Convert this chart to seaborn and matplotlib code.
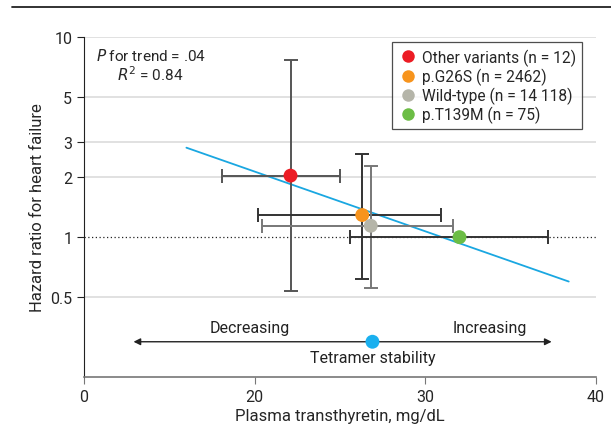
import matplotlib
matplotlib.use("Agg")
import matplotlib.pyplot as plt
import seaborn as sns
import pandas as pd
from matplotlib.lines import Line2D

# data
groups = ["Other variants (n = 12)", "p.G26S (n = 2462)", "Wild-type (n = 14 118)", "p.T139M (n = 75)"]
colors = ["#ec1c24", "#f7941d", "#b5b5a9", "#6cbd45"]
ttr = [22.1, 26.3, 26.8, 32.0]
hr = [2.03, 1.29, 1.14, 1.0]
x_lo = [18.1, 20.2, 20.4, 25.6]
x_hi = [25.0, 30.9, 31.6, 37.2]
hr_lo = [0.54, 0.62, 0.56, None]
hr_hi = [7.7, 2.6, 2.26, None]
bar_colors = ["#555555", "#333333", "#777777", "#333333"]

trend_x = [16.0, 38.4]
trend_hr = [2.8, 0.6]

stab_x = [12.9, 37.4]
stab_mid = 26.9

sns.set_style("white")
plt.rcParams["font.family"] = ["Roboto", "DejaVu Sans"]
plt.rcParams["font.size"] = 11

fig = plt.figure(figsize=(6.11, 4.27), dpi=100)
ax = fig.add_axes([0.1375, 0.1148, 0.838, 0.796])

ax.set_yscale("log")
ax.set_xlim(10, 40)
ax.set_ylim(0.2, 10)

# gridlines
for g in [10, 5, 3, 2, 0.5]:
    ax.axhline(g, color="#dcdcdc", lw=1.2, zorder=0)
ax.axhline(1, color="#222222", lw=0.9, ls=(0, (1, 2)), zorder=0)

# trend line
trend = pd.DataFrame({"x": trend_x, "y": trend_hr})
sns.lineplot(data=trend, x="x", y="y", ax=ax, color="#1aa7e1", lw=1.3, zorder=2)

# error bars
for i in range(len(groups)):
    ax.errorbar(ttr[i], hr[i], xerr=[[ttr[i] - x_lo[i]], [x_hi[i] - ttr[i]]],
                fmt="none", ecolor=bar_colors[i], elinewidth=1.4, capsize=5, capthick=1.4, zorder=3)
    if hr_lo[i] is not None:
        ax.errorbar(ttr[i], hr[i], yerr=[[hr[i] - hr_lo[i]], [hr_hi[i] - hr[i]]],
                    fmt="none", ecolor=bar_colors[i], elinewidth=1.4, capsize=5, capthick=1.4, zorder=3)

df = pd.DataFrame({"ttr": ttr, "hr": hr, "group": groups})
sns.scatterplot(data=df, x="ttr", y="hr", hue="group", palette=colors, s=100,
                edgecolor="none", ax=ax, zorder=4, legend=False)

# tetramer stability arrow
ax.annotate("", xy=(stab_x[0], 0.30), xytext=(stab_x[1], 0.30),
            arrowprops=dict(arrowstyle="<|-|>", color="#222222", lw=1.0, mutation_scale=10,
                            shrinkA=0, shrinkB=0))
ax.scatter([stab_mid], [0.30], s=100, color="#1ab0ef", zorder=5, edgecolor="none")
ax.text(19.7, 0.355, "Decreasing", ha="center", va="center", fontsize=11.5, color="#222222")
ax.text(33.8, 0.355, "Increasing", ha="center", va="center", fontsize=11.5, color="#222222")
ax.text(stab_mid, 0.25, "Tetramer stability", ha="center", va="center", fontsize=11.5, color="#222222")

ax.text(13.9, 8.1, "$P$ for trend = .04", ha="center", va="center", fontsize=11)
ax.text(13.9, 6.6, "$R^2$ = 0.84", ha="center", va="center", fontsize=11)

handles = [Line2D([0], [0], marker="o", color="none", markerfacecolor=c, markeredgecolor="none",
                  markersize=9) for c in colors]
leg = ax.legend(handles, groups, loc="upper right", bbox_to_anchor=(0.973, 0.985), frameon=True,
                fontsize=11.2, handletextpad=0.3, borderpad=0.4, labelspacing=0.12, fancybox=False,
                handlelength=1.2, borderaxespad=0)
leg.get_frame().set_edgecolor("#222222")
leg.get_frame().set_linewidth(0.9)

ax.set_yticks([0.5, 1, 2, 3, 5, 10])
ax.set_yticklabels(["0.5", "1", "2", "3", "5", "10"])
ax.yaxis.set_minor_locator(matplotlib.ticker.NullLocator())
ax.set_xticks([10, 20, 30, 40])
ax.set_xticklabels(["0", "20", "30", "40"])

ax.set_xlabel("Plasma transthyretin, mg/dL", fontsize=12, labelpad=3)
ax.set_ylabel("Hazard ratio for heart failure", fontsize=12, labelpad=4)

sns.despine(ax=ax)
ax.spines["left"].set_color("#222222")
ax.spines["bottom"].set_color("#777777")
ax.spines["bottom"].set_linewidth(1.2)
ax.tick_params(axis="y", length=5, color="#222222", labelsize=11.5, left=True)
ax.tick_params(axis="x", length=5, color="#777777", labelsize=11.5, bottom=True)

fig.add_artist(Line2D([0.02, 1.0], [0.981, 0.981], color="#222222", lw=1.3, transform=fig.transFigure))

fig.savefig("out.png", dpi=100)
